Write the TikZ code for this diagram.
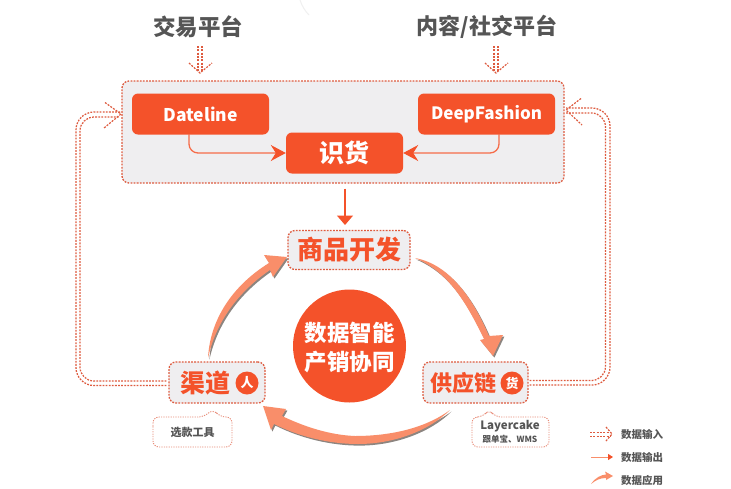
\documentclass[tikz,border=0pt]{standalone}
\usepackage{fontspec}
\setmainfont{Noto Sans CJK SC}
\usetikzlibrary{arrows.meta,calc}
\definecolor{org}{HTML}{F4522A}
\definecolor{sal}{HTML}{F98E6A}
\definecolor{panel}{HTML}{EFEEF0}
\definecolor{dot}{HTML}{DE5B3F}
\definecolor{txt}{HTML}{555555}
\definecolor{shd}{HTML}{8C8580}
\tikzset{
 x=1pt,y=-1pt,
 solidbox/.style={fill=org,rounded corners=6pt,text=white,font=\bfseries\fontsize{17.5}{17.5}\selectfont,inner sep=0pt,anchor=center},
 dotbox/.style={draw=dot,fill=panel,line width=1.3pt,dash pattern=on 1.8pt off 1.3pt,rounded corners=7pt,inner sep=0pt},
 dotline/.style={draw=dot,line width=1.25pt,dash pattern=on 1.8pt off 1.3pt,rounded corners=14pt},
 chev/.style={draw=dot,line width=1.2pt,dash pattern=on 2pt off 1.3pt},
 callout/.style={draw=dot!70,line width=.9pt,dash pattern=on 1.2pt off 1.2pt,rounded corners=6pt,fill=white},
 thin arrow/.style={draw=org!85!white,line width=1.3pt,rounded corners=9pt,-{Stealth[length=15pt,width=16pt,inset=5pt,color=org]}},
 plain label/.style={text=txt,font=\bfseries\fontsize{#1}{#1}\selectfont,inner sep=0pt},
 big label/.style={text=org,font=\bfseries\fontsize{#1}{#1}\selectfont,inner sep=0pt},
 badge/.style={circle,fill=org,text=white,minimum size=23pt,inner sep=0pt,font=\bfseries\fontsize{13}{13}\selectfont},
 swoosh/.style={fill=sal},
 swooshsh/.style={fill=shd,shift={(1.4,1.6)}},
}
\begin{document}
\begin{tikzpicture}
\useasboundingbox (0,0) rectangle (731,488);
\fill[white] (0,0) rectangle (731,488);
\draw[black!6,line width=1pt] (300,0) .. controls (302,6) and (305,11) .. (309,15);

% titles
\node[plain label=22.5] (trade) at (198,27) {交易平台};
\node[plain label=22] (social) at (487,27) {内容/社交平台};

% panel and nodes
\node[dotbox,minimum width=442pt,minimum height=102pt] (panel) at (343,132) {};
\node[solidbox,minimum width=137pt,minimum height=41pt] (date) at (200.5,114) {Dateline};
\node[solidbox,minimum width=137pt,minimum height=41pt,font=\bfseries\fontsize{17}{17}\selectfont] (deep) at (486.5,114) {DeepFashion};
\node[solidbox,minimum width=117pt,minimum height=41pt,font=\bfseries\fontsize{25}{25}\selectfont] (shi) at (344.5,153) {识货};

\node[dotbox,minimum width=122pt,minimum height=39pt] (dev) at (349,250) {};
\node[big label=26] (devt) at (349,250) {商品开发};

\node[circle,fill=org,minimum size=113pt,inner sep=0pt] (core) at (349.5,346) {};
\node[text=white,font=\bfseries\fontsize{22.5}{22.5}\selectfont,inner sep=0pt] (core1) at (349.5,333) {数据智能};
\node[text=white,font=\bfseries\fontsize{22.5}{22.5}\selectfont,inner sep=0pt] (core2) at (349.5,362) {产销协同};

\node[dotbox,minimum width=96pt,minimum height=41pt] (chan) at (217,382.5) {};
\node[big label=25] (chant) at (205,383) {渠道};
\node[badge] (ren) at (247,383) {人};

\node[dotbox,minimum width=105pt,minimum height=41pt] (sup) at (475.5,382.5) {};
\node[big label=22] (supt) at (463,383) {供应链};
\node[badge] (huo) at (512,383) {货};

% callouts
\draw[callout] (153,432) -- (153,417) -- (204,417) -- (213,409) -- (220,417) -- (232,417) -- (232,447) -- (153,447) -- cycle;
\node[plain label=11] (tool) at (192.5,432) {选款工具};
\draw[callout] (472,432) -- (472,417) -- (483,417) -- (489,409) -- (495,417) -- (549,417) -- (549,447) -- (472,447) -- cycle;
\node[plain label=11.5] (layer) at (510,426) {Layercake};
\node[plain label=8.5] (wms) at (510,439) {跟单宝、WMS};

% input arrows from the top
\coordinate (tA) at (198,46); \coordinate (tB) at (198,71);
\coordinate (tC) at (202,46); \coordinate (tD) at (202,71);
\draw[chev] (tA) -- (tB); \draw[chev] (tC) -- (tD);
\draw[chev] (189,63) -- (200,73) -- (212,63);
\coordinate (uA) at (494,46); \coordinate (uB) at (494,71);
\coordinate (uC) at (498,46); \coordinate (uD) at (498,71);
\draw[chev] (uA) -- (uB); \draw[chev] (uC) -- (uD);
\draw[chev] (485,63) -- (496,73) -- (508,63);

% feedback double lines
\coordinate (cl1) at (chan.west |- 0,381); \coordinate (cl2) at (chan.west |- 0,385.5);
\draw[dotline] ($(cl1)+(-2,0)$) -- (80,381) -- (80,117) -- (120,117);
\draw[dotline,rounded corners=18pt] ($(cl2)+(-2,0)$) -- (76,385.5) -- (76,112) -- (120,112);
\draw[chev] (105,102.5) -- (121,114) -- (104,128);
\coordinate (cr1) at (sup.east |- 0,380.5); \coordinate (cr2) at (sup.east |- 0,385);
\draw[dotline] ($(cr1)+(1,0)$) -- (605.5,380.5) -- (605.5,113) -- (566,113);
\draw[dotline,rounded corners=18pt] ($(cr2)+(1,0)$) -- (610,385) -- (610,108) -- (566,108);
\draw[chev] (581,98.5) -- (566,110) -- (582,125);

% thin output arrows
\draw[thin arrow] (189,134) -- (189,153) -- (shi.west);
\draw[thin arrow] (499,134) -- (499,153) -- (shi.east);
\draw[draw=org,line width=1.3pt,-{Triangle[length=9.5pt,width=16pt]}] (panel.south -| dev) ++(-4,5) coordinate (dn) -- (345,225);

% big swooshes
\foreach \st in {swooshsh,swoosh}{
 \path[\st] (208,358) .. controls (210,320) and (232,286) .. (269,263)
   -- (264,255) -- (287,257) -- (273,277) -- (270,270)
   .. controls (238,292) and (216,322) .. cycle;
 \path[\st] (415,258) .. controls (448,264) and (472,296) .. (489,336)
   -- (503,335) -- (493,356) -- (480,340) -- (484,339)
   .. controls (465,300) and (448,272) .. cycle;
 \path[\st] (450,410) .. controls (420,432) and (380,436) .. (355,436)
   .. controls (330,435) and (305,427) .. (282,416)
   -- (286,409) -- (263,406) -- (271,430) -- (274,424)
   .. controls (300,437) and (330,444) .. (358,444)
   .. controls (395,444) and (430,430) .. cycle;
}

% legend
\coordinate (la) at (590,432.5); \coordinate (lb) at (610,432.5);
\coordinate (lc) at (590,436.5); \coordinate (ld) at (610,436.5);
\draw[chev,line width=1.5pt] (la) -- (lb); \draw[chev,line width=1.5pt] (lc) -- (ld);
\draw[chev,line width=1.2pt] (606,427) -- (612,434) -- (606,441);
\node[plain label=10.5] (l1) at (642,434) {数据输入};
\coordinate (le) at (591,457); \coordinate (lf) at (613,457);
\draw[draw=sal,line width=1pt,-{Triangle[length=5pt,width=6pt,color=org]}] (le) -- (lf);
\node[plain label=10.5] (l2) at (642,457) {数据输出};
\path[swoosh] (591,484) .. controls (596,477) and (601,475) .. (606,474.5) -- (605,471.5) -- (613,476) -- (606,480) -- (606,478)
 .. controls (600,478) and (596,480) .. cycle;
\node[plain label=10.5] (l3) at (642,480) {数据应用};
\end{tikzpicture}
\end{document}
